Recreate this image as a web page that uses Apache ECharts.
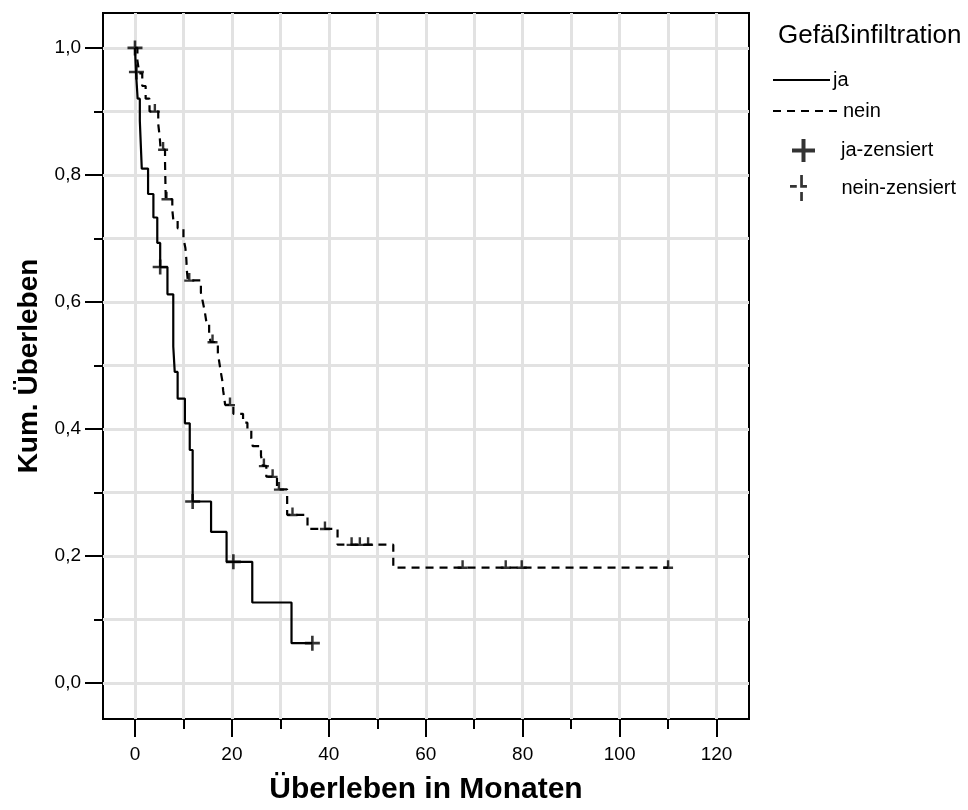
<!DOCTYPE html>
<html><head><meta charset="utf-8">
<script src="https://cdn.jsdelivr.net/npm/echarts@6/dist/echarts.min.js"></script>
<style>html,body{margin:0;padding:0;background:#fff}#c{width:968px;height:810px}</style>
</head><body><div id="c"></div>
<script>
// ---- tick values ----
const xTicks = [0, 20, 40, 60, 80, 100, 120];
const xMinorTicks = [10, 30, 50, 70, 90, 110];
const xGridValues = [0, 10, 20, 30, 40, 50, 60, 70, 80, 90, 100, 110, 120];
const yTicks = [0, 0.2, 0.4, 0.6, 0.8, 1.0];
const yMinorTicks = [0.1, 0.3, 0.5, 0.7, 0.9];
const yGridValues = [0, 0.1, 0.2, 0.3, 0.4, 0.5, 0.6, 0.7, 0.8, 0.9, 1.0];

// ---- Kaplan-Meier: ja (Gefäßinfiltration) ----
const jaTime = [0, 0.2, 0.55, 1.0, 1.4, 2.7, 3.8, 4.6, 5.2, 6.7, 7.9, 8.2, 8.8, 10.3, 11.3, 11.9, 15.7, 18.9, 24.2, 32.3, 36.6];
const jaSurv = [1.0, 0.962, 0.92, 0.885, 0.81, 0.77, 0.733, 0.693, 0.655, 0.612, 0.53, 0.49, 0.448, 0.409, 0.367, 0.286, 0.238, 0.191, 0.127, 0.063, 0.063];
const jaCensTime = [0, 0.3, 5.2, 11.9, 20.3, 36.6];
const jaCensSurv = [1.0, 0.962, 0.655, 0.286, 0.191, 0.063];

// ---- Kaplan-Meier: nein ----
const neinTime = [0, 0.5, 0.9, 1.5, 2.2, 3.0, 4.8, 5.1, 5.3, 6.2, 6.25, 6.3, 6.35, 7.7, 7.9, 8.8, 10.0, 10.4, 10.6, 10.7, 10.9,
  13.6, 14.0, 14.4, 14.8, 15.3, 15.6, 17.1, 17.4, 17.7, 18.0, 18.2, 18.4, 18.6, 20.3, 22.3, 23.2, 24.0, 24.3, 26.0, 26.4,
  27.1, 29.3, 31.4, 35.6, 41.8, 53.3, 110];
const neinSurv = [1.0, 0.98, 0.96, 0.94, 0.92, 0.90, 0.88, 0.86, 0.84, 0.82, 0.80, 0.78, 0.762, 0.745, 0.73, 0.716, 0.70, 0.685, 0.667, 0.65, 0.634,
  0.615, 0.60, 0.585, 0.565, 0.55, 0.537, 0.52, 0.505, 0.49, 0.477, 0.46, 0.45, 0.438, 0.424, 0.41, 0.40, 0.385, 0.373, 0.358, 0.342,
  0.325, 0.305, 0.265, 0.243, 0.218, 0.182, 0.182];
const neinCensTime = [4.1, 5.8, 6.5, 11.2, 16.0, 19.6, 26.6, 28.4, 29.7, 32.5, 39.2, 44.7, 46.4, 48.1, 67.6, 76.5, 79.8, 110];
const neinCensSurv = [0.90, 0.84, 0.762, 0.634, 0.537, 0.438, 0.342, 0.325, 0.305, 0.265, 0.243, 0.218, 0.218, 0.218, 0.182, 0.182, 0.182, 0.182];

const zip = (a, b) => a.map((v, i) => [v, b[i]]);

const X_MIN = -6.6, X_MAX = 126.7, Y_MIN = -0.0564, Y_MAX = 1.0549;
const FONT = '"Liberation Sans", Arial, sans-serif';

const plusPath = 'path://M0,6.2 H15 V8.8 H0 Z M6.2,0 H8.8 V15 H6.2 Z';
const teePath = 'path://M0,6.4 H10 V8.8 H0 Z M3.8,0 H6.2 V8.8 H3.8 Z';
const dashPlusPath = 'path://M0,10.8 H6 V13.2 H0 Z M9,10.8 H15 V13.2 H9 Z M9,2 H11.4 V12 H9 Z M9,17 H11.4 V25 H9 Z';
const solidLinePath = 'path://M0,0 H57 V2 H0 Z';
const dashLinePath = 'path://M0,0 H8 V2 H0 Z M14,0 H22 V2 H14 Z M28,0 H36 V2 H28 Z M42,0 H50 V2 H42 Z M56,0 H64 V2 H56 Z';

function xAxisBase(extra) {
  return Object.assign({
    type: 'value', gridIndex: 0, position: 'bottom', min: X_MIN, max: X_MAX,
    axisLine: { show: false, onZero: false },
    axisTick: { show: false }, axisLabel: { show: false }, splitLine: { show: false }
  }, extra);
}
function yAxisBase(extra) {
  return Object.assign({
    type: 'value', gridIndex: 0, position: 'left', min: Y_MIN, max: Y_MAX,
    axisLine: { show: false, onZero: false },
    axisTick: { show: false }, axisLabel: { show: false }, splitLine: { show: false }
  }, extra);
}
function legendItem(name, icon, left, centerY, w, h, textLeft) {
  return {
    data: [{ name: name, icon: icon }], orient: 'vertical', left: left, top: centerY - 12,
    itemWidth: w, itemHeight: h, itemStyle: { color: '#000', borderWidth: 0 }, lineStyle: { width: 0 },
    textStyle: { fontFamily: FONT, fontSize: 20, color: '#000', padding: [0, 0, 0, textLeft - (left + w + 5)] },
    selectedMode: false
  };
}

const chart = echarts.init(document.getElementById('c'), null, { renderer: 'canvas' });
chart.setOption({
  animation: false,
  backgroundColor: '#fff',
  textStyle: { fontFamily: FONT, color: '#000' },
  title: {
    text: 'Gefäßinfiltration', left: 773, top: 18,
    textStyle: { fontFamily: FONT, fontSize: 26, fontWeight: 'normal', color: '#000' }
  },
  grid: { left: 103, top: 13, width: 646, height: 709, show: true, borderColor: '#000', borderWidth: 2, backgroundColor: 'transparent' },
  legend: [
    legendItem('ja', solidLinePath, 768, 77, 57, 2, 828),
    legendItem('nein', dashLinePath, 768, 108, 64, 2, 838),
    legendItem('ja-zensiert', plusPath, 787, 146, 23, 24, 836),
    legendItem('nein-zensiert', dashPlusPath, 785, 182, 22, 26, 839)
  ],
  xAxis: [
    xAxisBase({
      name: 'Überleben in Monaten', nameLocation: 'middle', nameGap: 56,
      nameTextStyle: { fontFamily: FONT, fontSize: 30, fontWeight: 'bold', color: '#000' },
      axisTick: { show: true, customValues: xTicks, length: 18, lineStyle: { color: '#000', width: 2 } },
      axisLabel: { show: true, customValues: xTicks, margin: 26, fontFamily: FONT, fontSize: 19, color: '#000',
        formatter: v => String(v) }
    }),
    xAxisBase({
      axisTick: { show: true, customValues: xMinorTicks, length: 10, lineStyle: { color: '#000', width: 2 } }
    }),
    xAxisBase({
      axisTick: { show: false, customValues: xGridValues },
      splitLine: { show: true, lineStyle: { color: '#e2e2e2', width: 3 } }
    })
  ],
  yAxis: [
    yAxisBase({
      name: 'Kum. Überleben', nameLocation: 'middle', nameGap: 58,
      nameTextStyle: { fontFamily: FONT, fontSize: 28, fontWeight: 'bold', color: '#000' },
      axisTick: { show: true, customValues: yTicks, length: 18, lineStyle: { color: '#000', width: 2 } },
      axisLabel: { show: true, customValues: yTicks, margin: 22, fontFamily: FONT, fontSize: 19, color: '#000',
        formatter: v => v.toFixed(1).replace('.', ',') }
    }),
    yAxisBase({
      axisTick: { show: true, customValues: yMinorTicks, length: 9, lineStyle: { color: '#000', width: 2 } }
    }),
    yAxisBase({
      axisTick: { show: false, customValues: yGridValues },
      splitLine: { show: true, lineStyle: { color: '#e2e2e2', width: 3 } }
    })
  ],
  series: [
    {
      name: 'ja', type: 'line', step: 'end', xAxisIndex: 0, yAxisIndex: 0, symbol: 'none',
      data: zip(jaTime, jaSurv), lineStyle: { color: '#000', width: 2.2 }, itemStyle: { color: '#000' }, z: 3
    },
    {
      name: 'nein', type: 'line', step: 'end', xAxisIndex: 0, yAxisIndex: 0, symbol: 'none',
      data: zip(neinTime, neinSurv), lineStyle: { color: '#000', width: 2.2, type: [8, 6] }, itemStyle: { color: '#000' }, z: 3
    },
    {
      name: 'ja-zensiert', type: 'scatter', xAxisIndex: 0, yAxisIndex: 0, symbol: plusPath, symbolSize: 15,
      data: zip(jaCensTime, jaCensSurv), itemStyle: { color: '#000' }, z: 4
    },
    {
      name: 'nein-zensiert', type: 'scatter', xAxisIndex: 0, yAxisIndex: 0, symbol: teePath, symbolSize: [10, 8.8],
      symbolOffset: [0, -3], data: zip(neinCensTime, neinCensSurv), itemStyle: { color: '#000' }, z: 4
    }
  ]
});
</script></body></html>
